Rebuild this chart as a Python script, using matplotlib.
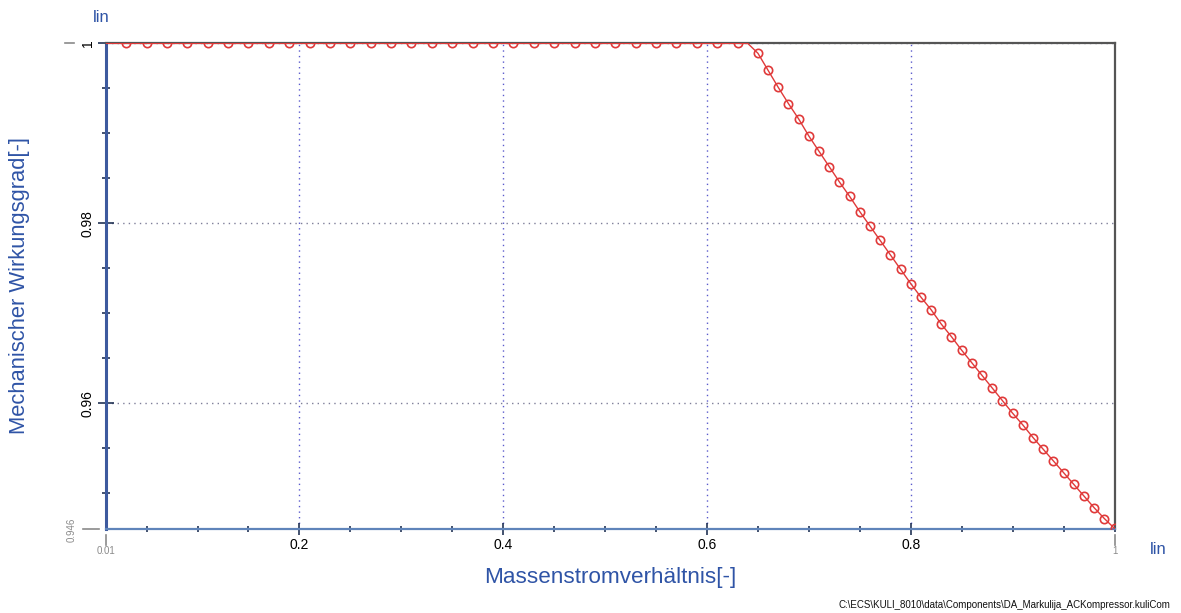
import matplotlib
matplotlib.use("Agg")
import matplotlib.pyplot as plt
from matplotlib.ticker import MultipleLocator
from matplotlib.lines import Line2D

plt.rcParams['font.family'] = ['Liberation Sans', 'DejaVu Sans']

# Mass flow ratio and mechanical efficiency
mass_flow_flat = [0.01, 0.03, 0.05, 0.07, 0.09, 0.11, 0.13, 0.15, 0.17, 0.19,
                  0.21, 0.23, 0.25, 0.27, 0.29, 0.31, 0.33, 0.35, 0.37, 0.39,
                  0.41, 0.43, 0.45, 0.47, 0.49, 0.51, 0.53, 0.55, 0.57, 0.59,
                  0.61, 0.63]
efficiency_flat = [1.0] * len(mass_flow_flat)

knee_x = [0.64]
knee_y = [1.0]

mass_flow_drop = [0.65, 0.66, 0.67, 0.68, 0.69, 0.70, 0.71, 0.72, 0.73, 0.74,
                  0.75, 0.76, 0.77, 0.78, 0.79, 0.80, 0.81, 0.82, 0.83, 0.84,
                  0.85, 0.86, 0.87, 0.88, 0.89, 0.90, 0.91, 0.92, 0.93, 0.94,
                  0.95, 0.96, 0.97, 0.98, 0.99, 1.00]
efficiency_drop = [0.9989, 0.9970, 0.9951, 0.9933, 0.9916, 0.9897, 0.9880, 0.9863,
                   0.9846, 0.9830, 0.9813, 0.9797, 0.9781, 0.9765, 0.9749, 0.9733,
                   0.9718, 0.9704, 0.9688, 0.9674, 0.9659, 0.9645, 0.9631, 0.9617,
                   0.9603, 0.9589, 0.9576, 0.9562, 0.9549, 0.9536, 0.9523, 0.9510,
                   0.9497, 0.9484, 0.9472, 0.9461]

x_ticks = [0.2, 0.4, 0.6, 0.8]
x_ticklabels = ['0.2', '0.4', '0.6', '0.8']
y_ticks = [0.96, 0.98, 1.0]
y_ticklabels = ['0.96', '0.98', '1']
x_range = (0.01, 1.0)
y_range = (0.946, 1.0)

x_label = 'Massenstromverhältnis[-]'
y_label = 'Mechanischer Wirkungsgrad[-]'
scale_name = 'lin'
file_path = r'C:\ECS\KULI_8010\data\Components\DA_Markulija_ACKompressor.kuliCom'

blue = '#2f54a6'
red = '#e03a3a'

xs = mass_flow_flat + knee_x + mass_flow_drop
ys = efficiency_flat + knee_y + efficiency_drop
# no marker on the range start or on the knee point
marked = [i for i in range(1, len(xs)) if xs[i] not in knee_x]

fig = plt.figure(figsize=(11.81, 6.13), dpi=100)
ax = fig.add_axes([0.0896, 0.1365, 0.8541, 0.7928])
ax.set_xlim(*x_range)
ax.set_ylim(*y_range)

ax.plot(xs, ys, color=red, lw=1.0, marker='o', markersize=6,
        markerfacecolor='none', markeredgecolor=red, markeredgewidth=1.2,
        markevery=marked, zorder=3)

# spines
ax.spines['left'].set_color('#3d5a9e')
ax.spines['left'].set_linewidth(2.2)
ax.spines['bottom'].set_color('#5f84ba')
ax.spines['bottom'].set_linewidth(1.6)
for s in ('top', 'right'):
    ax.spines[s].set_color('#555555')
    ax.spines[s].set_linewidth(1.6)

# ticks
ax.set_xticks(x_ticks)
ax.set_xticklabels(x_ticklabels)
ax.set_yticks(y_ticks)
ax.set_yticklabels(y_ticklabels, rotation=90, va='center')
ax.xaxis.set_minor_locator(MultipleLocator(0.05))
ax.yaxis.set_minor_locator(MultipleLocator(0.005))
ax.tick_params(axis='x', which='major', direction='inout', length=8, width=1.2,
               color='#223355', labelsize=10, pad=2)
ax.tick_params(axis='x', which='minor', direction='inout', length=4, width=1.2,
               color='#223355')
ax.tick_params(axis='y', which='major', direction='inout', length=12, width=1.2,
               color='#223355', labelsize=10, pad=2)
ax.tick_params(axis='y', which='minor', direction='inout', length=6, width=1.2,
               color='#223355')

# grid
ax.xaxis.grid(True, which='major', ls=(0, (1, 3)), color='#5a5acc', lw=1.0)
ax.yaxis.grid(True, which='major', ls=(0, (1, 3)), color='#7f7f99', lw=1.0)
ax.set_axisbelow(True)

# end-of-range labels in grey
grey = '#8a8a8a'
ax.add_line(Line2D([-0.023, -0.007], [0.0, 0.0], transform=ax.transAxes,
                   color=grey, lw=1.2, clip_on=False))
ax.text(-0.034, 0.946, '0.946', transform=ax.get_yaxis_transform(),
        rotation=90, ha='center', va='center', fontsize=7, color=grey)
ax.add_line(Line2D([-0.040, -0.032], [1.0, 1.0], transform=ax.transAxes,
                   color=grey, lw=1.2, clip_on=False))
ax.add_line(Line2D([0.0, 0.0], [-0.012, -0.032], transform=ax.transAxes,
                   color=grey, lw=1.2, clip_on=False))
ax.text(0.01, -0.035, '0.01', transform=ax.get_xaxis_transform(),
        ha='center', va='top', fontsize=7, color=grey)
ax.add_line(Line2D([1.0, 1.0], [-0.012, -0.032], transform=ax.transAxes,
                   color=grey, lw=1.2, clip_on=False))
ax.text(1.0, -0.035, '1', transform=ax.get_xaxis_transform(),
        ha='center', va='top', fontsize=7, color=grey)

# axis titles
fig.text(20 / 1181, 1 - 285 / 613, y_label, rotation=90, ha='center', va='center',
         fontsize=15.8, color=blue)
fig.text(610 / 1181, 1 - 578 / 613, x_label, ha='center', va='center',
         fontsize=16.2, color=blue)
fig.text(101 / 1181, 1 - 18 / 613, scale_name, ha='center', va='center',
         fontsize=12, color=blue)
fig.text(1158 / 1181, 1 - 550 / 613, scale_name, ha='center', va='center',
         fontsize=12, color=blue)
fig.text(1170 / 1181, 1 - 605 / 613, file_path, ha='right', va='center',
         fontsize=7, color='#111111')

fig.savefig('out.png', dpi=100)
